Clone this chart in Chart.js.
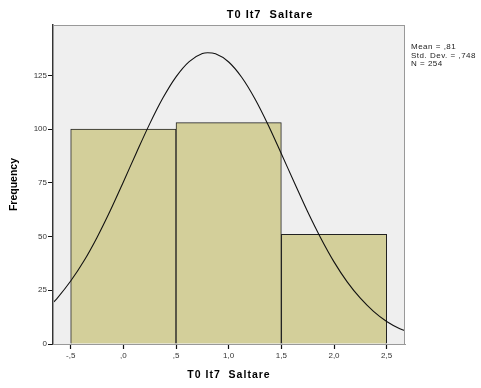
<!DOCTYPE html>
<html>
<head>
<meta charset="utf-8">
<script src="https://cdn.jsdelivr.net/npm/chart.js@4/dist/chart.umd.min.js"></script>
<style>
    html, body { margin: 0; padding: 0; background: #fff; }
    #wrap { width: 481px; height: 388px; }
</style>
</head>
<body>
<div id="wrap"><canvas id="hist"></canvas></div>
<script>
// histogram bins (centre of each bin) and counts
const binCenters = [0, 1, 2];
const frequencies = [100, 103, 51];

// normal curve
const curveX = [-0.66, -0.625, -0.5, -0.375, -0.25, -0.125, 0, 0.125, 0.25, 0.375, 0.5, 0.625, 0.75, 0.8,
    0.875, 1.0, 1.125, 1.25, 1.375, 1.5, 1.625, 1.75, 1.875, 2.0, 2.125, 2.25, 2.375, 2.5, 2.625, 2.67];
const curveY = [19.6, 21.5, 29.3, 38.6, 49.6, 62.0, 75.4, 89.1, 102.4, 114.4, 124.3, 131.4, 135.1, 135.5,
    135.0, 131.2, 124.0, 114.0, 101.9, 88.5, 74.9, 61.5, 49.2, 38.2, 28.9, 21.3, 15.2, 10.5, 7.1, 6.2];

const statsLines = ['Mean = ,81', 'Std. Dev. = ,748', 'N = 254'];
const chartTitle = 'T0 It7  Saltare';
const xTitle = 'T0 It7  Saltare';
const yTitle = 'Frequency';

const X_MIN = -0.668, X_MAX = 2.674, Y_MAX = 148.4;
const FONT = '"Liberation Sans", Arial, sans-serif';

// SPSS style numbers: comma decimal, no leading zero
function fmt(v) {
    return v.toFixed(1).replace('.', ',').replace(/^(-?)0,/, '$1,');
}

const plotFrame = {
    id: 'plotFrame',
    beforeDatasetsDraw(chart) {
        const { ctx, chartArea: a } = chart;
        ctx.save();
        ctx.fillStyle = '#efefef';
        ctx.fillRect(a.left, a.top, a.right - a.left, a.bottom - a.top);
        ctx.restore();
    },
    afterDatasetsDraw(chart) {
        const { ctx, chartArea: a } = chart;
        ctx.save();
        ctx.strokeStyle = '#999';
        ctx.lineWidth = 1;
        ctx.strokeRect(a.left + 0.5, a.top + 0.5, a.right - a.left - 1, a.bottom - a.top);
        ctx.restore();
    },
    afterDraw(chart) {
        const { ctx, chartArea: a } = chart;
        ctx.save();
        ctx.fillStyle = '#000';
        ctx.textBaseline = 'middle';
        ctx.textAlign = 'center';
        ctx.letterSpacing = '1px';
        ctx.font = 'bold 11px ' + FONT;
        ctx.fillText(chartTitle, 270, 15);
        ctx.font = 'bold 10.5px ' + FONT;
        ctx.fillText(xTitle, (a.left + a.right) / 2, 375);
        ctx.letterSpacing = '0.5px';
        ctx.font = '8px ' + FONT;
        ctx.textAlign = 'left';
        ctx.fillStyle = '#222';
        statsLines.forEach((s, i) => ctx.fillText(s, a.right + 6, 47 + i * 8.5));
        ctx.restore();
    }
};

new Chart(document.getElementById('hist'), {
    type: 'bar',
    data: {
        datasets: [
            {
                type: 'line',
                order: 0,
                data: curveX.map((x, i) => ({ x, y: curveY[i] })),
                xAxisID: 'x',
                borderColor: '#111',
                borderWidth: 1.1,
                pointRadius: 0,
                fill: false,
                cubicInterpolationMode: 'monotone'
            },
            {
                type: 'bar',
                order: 1,
                data: binCenters.map((x, i) => ({ x, y: frequencies[i] })),
                xAxisID: 'x2',
                backgroundColor: '#d3cf9a',
                borderColor: '#222',
                borderWidth: 1,
                grouped: false,
                barPercentage: 1,
                categoryPercentage: 1
            }
        ]
    },
    options: {
        responsive: true,
        maintainAspectRatio: false,
        animation: false,
        layout: { padding: { top: 25, right: 76, left: 0, bottom: 0 } },
        plugins: { legend: { display: false }, tooltip: { enabled: false }, title: { display: false } },
        scales: {
            x: {
                type: 'linear',
                offset: false,
                min: X_MIN,
                max: X_MAX,
                afterFit: s => { s.height = 44; },
                ticks: {
                    stepSize: 0.5,
                    includeBounds: false,
                    callback: v => fmt(v),
                    color: '#333',
                    font: { size: 8, family: FONT },
                    padding: 2,
                    maxRotation: 0,
                    autoSkip: false
                },
                grid: {
                    offset: false, drawOnChartArea: false, drawTicks: true, tickLength: 5,
                    color: '#222', tickColor: '#111', tickWidth: 1.2
                },
                border: { color: '#999', width: 1 },
                title: { display: false }
            },
            x2: {
                type: 'linear',
                display: false,
                offset: false,
                grid: { offset: false },
                min: X_MIN,
                max: X_MAX,
                afterBuildTicks: s => { s.ticks = []; }
            },
            y: {
                min: 0,
                max: Y_MAX,
                afterFit: s => { s.width = 53; },
                ticks: {
                    stepSize: 25,
                    includeBounds: false,
                    color: '#333',
                    font: { size: 8, family: FONT },
                    padding: 1
                },
                grid: { drawOnChartArea: false, drawTicks: true, tickLength: 5, color: '#222', tickColor: '#111' },
                border: { color: '#333', width: 1.5 },
                title: {
                    display: true,
                    text: yTitle,
                    color: '#000',
                    font: { size: 10.5, weight: 'bold', family: FONT },
                    padding: { top: 8, bottom: 0 }
                }
            }
        }
    },
    plugins: [plotFrame]
});
</script>
</body>
</html>
